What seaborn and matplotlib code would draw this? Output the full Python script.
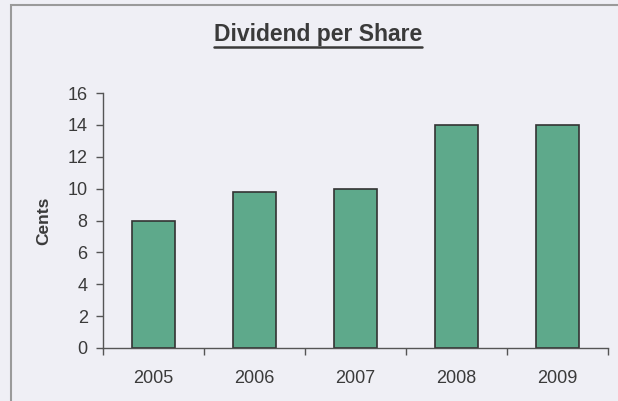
import matplotlib
matplotlib.use("Agg")
import matplotlib.pyplot as plt
import seaborn as sns
import pandas as pd
from matplotlib.patches import Rectangle
from matplotlib.lines import Line2D

years = ["2005", "2006", "2007", "2008", "2009"]
dividend = [8.0, 9.8, 10.0, 14.0, 14.0]
y_ticks = [0, 2, 4, 6, 8, 10, 12, 14, 16]
title = "Dividend per Share"
ylabel = "Cents"

sns.set_theme(style="white")
plt.rcParams["font.family"] = ["Liberation Sans", "DejaVu Sans"]

bg = "#efeff5"
txt = "#3a3a3a"
W, H = 618, 401
fig = plt.figure(figsize=(W / 100, H / 100), dpi=100, facecolor=bg)
ax = fig.add_axes([103 / W, 1 - 348 / H, (608 - 103) / W, (348 - 93) / H])
ax.set_facecolor(bg)

df = pd.DataFrame({"year": years, "value": dividend})
sns.barplot(data=df, x="year", y="value", ax=ax, color="#5ea98b",
            saturation=1, width=0.43, edgecolor="#333333", linewidth=1.2)

ax.set_ylim(0, 16)
ax.set_xlim(-0.5, len(years) - 0.5)
ax.set_yticks(y_ticks)
ax.set_yticklabels([str(t) for t in y_ticks], fontsize=13, color=txt)
ax.tick_params(axis="y", direction="out", length=5, width=1, color="#555555", pad=6, left=True)
ax.set_xticks(range(len(years)))
ax.set_xticklabels(years, fontsize=13, color=txt)
ax.tick_params(axis="x", which="major", length=0, pad=16)
ax.set_xticks([i - 0.5 for i in range(len(years) + 1)], minor=True)
ax.tick_params(axis="x", which="minor", direction="out", length=5, width=1, color="#555555", bottom=True)

for s in ["top", "right"]:
    ax.spines[s].set_visible(False)
for s in ["left", "bottom"]:
    ax.spines[s].set_color("#555555")
    ax.spines[s].set_linewidth(1)

ax.set_xlabel("")
ax.set_ylabel(ylabel, fontsize=12.5, fontweight="bold", color=txt, labelpad=12)

# title with underline
t = fig.text(318 / W, 1 - 35 / H, title, ha="center", va="center",
             fontsize=16.5, fontweight="bold", color=txt)
fig.canvas.draw()
bb = t.get_window_extent()
fig.add_artist(Line2D([bb.x0 / W, bb.x1 / W], [1 - 47 / H, 1 - 47 / H],
                      transform=fig.transFigure, color=txt, linewidth=1.8))

# outer frame
fig.add_artist(Rectangle((11 / W, -0.05), 1.2, 1 - 5 / H + 0.05, transform=fig.transFigure,
                         fill=False, edgecolor="#9a9a9a", linewidth=1.5))

fig.savefig("out.png", dpi=100, facecolor=bg)
